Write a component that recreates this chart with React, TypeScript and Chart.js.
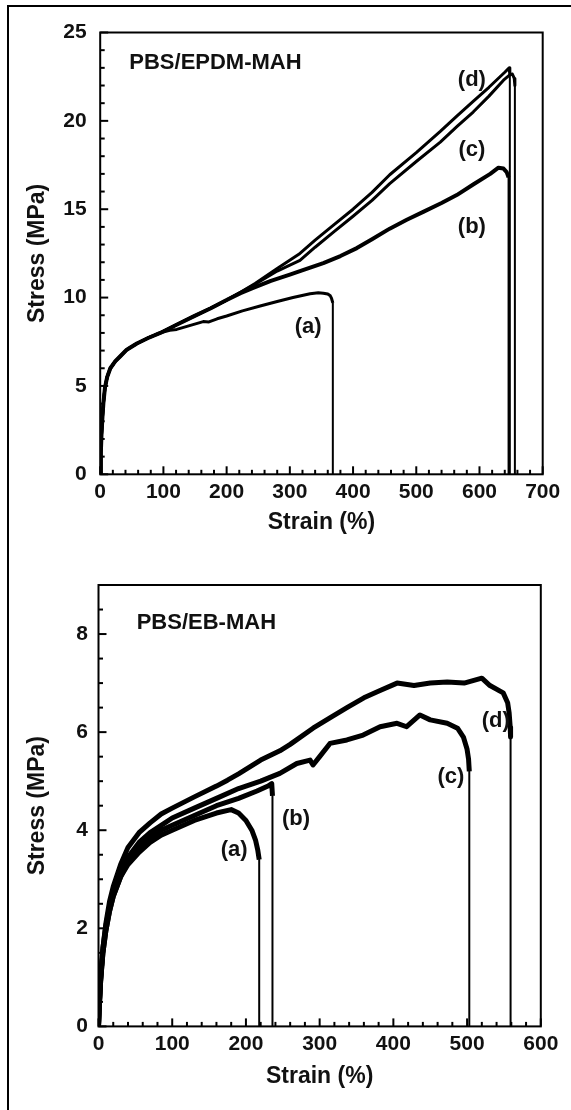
import React, { useEffect, useRef } from 'react';
import { Chart, registerables } from 'chart.js';

Chart.register(...registerables);

// ---------- Panel 1: PBS/EPDM-MAH ----------
const epdmTitle = 'PBS/EPDM-MAH';
const epdmXTicks = [0, 100, 200, 300, 400, 500, 600, 700];
const epdmYTicks = [0, 5, 10, 15, 20, 25];

const epdmA_strain = [0, 1, 2, 3.5, 5, 7.5, 11, 16, 24, 31, 42, 58, 75, 95, 110, 121, 140, 163, 172, 185, 200, 225, 253, 280, 305, 332, 345, 353, 360, 364, 366, 368, 368];
const epdmA_stress = [0, 1.2, 2.2, 3.2, 4.0, 4.9, 5.5, 6.0, 6.4, 6.65, 7.05, 7.4, 7.7, 8.0, 8.15, 8.2, 8.4, 8.64, 8.62, 8.8, 8.96, 9.25, 9.52, 9.78, 10.0, 10.22, 10.27, 10.25, 10.2, 10.1, 9.95, 9.7, 0];

const epdmB_strain = [0, 1, 2, 3.5, 5, 7.5, 11, 16, 24, 31, 42, 58, 75, 95, 120, 147, 175, 200, 222, 242, 270, 300, 316, 353, 380, 406, 430, 458, 485, 511, 540, 564, 590, 617, 630, 638, 643, 646, 646];
const epdmB_stress = [0, 1.2, 2.2, 3.2, 4.0, 4.9, 5.5, 6.0, 6.4, 6.65, 7.05, 7.4, 7.7, 8.0, 8.45, 8.92, 9.4, 9.86, 10.25, 10.55, 10.95, 11.3, 11.5, 11.95, 12.35, 12.8, 13.3, 13.9, 14.4, 14.85, 15.35, 15.8, 16.4, 17.0, 17.35, 17.3, 17.1, 16.8, 0];

const epdmC_strain = [0, 1, 2, 3.5, 5, 7.5, 11, 16, 24, 31, 42, 58, 75, 95, 120, 147, 175, 200, 222, 245, 280, 316, 340, 369, 400, 430, 458, 500, 538, 565, 590, 615, 638, 648, 652, 655, 656, 656];
const epdmC_stress = [0, 1.2, 2.2, 3.2, 4.0, 4.9, 5.5, 6.0, 6.4, 6.65, 7.05, 7.4, 7.7, 8.0, 8.45, 8.92, 9.4, 9.86, 10.3, 10.75, 11.5, 12.1, 12.85, 13.7, 14.6, 15.5, 16.45, 17.7, 18.8, 19.7, 20.5, 21.4, 22.3, 22.6, 22.65, 22.4, 22.0, 0];

const epdmD_strain = [0, 1, 2, 3.5, 5, 7.5, 11, 16, 24, 31, 42, 58, 75, 95, 120, 147, 175, 200, 222, 245, 280, 316, 340, 369, 400, 430, 458, 500, 538, 565, 590, 615, 640, 647, 648, 648];
const epdmD_stress = [0, 1.2, 2.2, 3.2, 4.0, 4.9, 5.5, 6.0, 6.4, 6.65, 7.05, 7.4, 7.7, 8.0, 8.45, 8.92, 9.4, 9.86, 10.3, 10.8, 11.65, 12.5, 13.25, 14.1, 15.0, 15.95, 16.95, 18.2, 19.4, 20.3, 21.1, 21.9, 22.75, 23.0, 22.6, 0];

const epdmLabelText = ['(a)', '(b)', '(c)', '(d)'];
const epdmLabelStrain = [329, 588, 588, 588];
const epdmLabelStress = [8.34, 14.0, 18.35, 22.3];

// ---------- Panel 2: PBS/EB-MAH ----------
const ebTitle = 'PBS/EB-MAH';
const ebXTicks = [0, 100, 200, 300, 400, 500, 600];
const ebYTicks = [0, 2, 4, 6, 8];

const ebA_strain = [0, 1, 3, 6, 10, 15, 20, 30, 40, 55, 70, 85, 100, 130, 160, 180, 190, 200, 208, 213, 216, 218, 218];
const ebA_stress = [0, 0.4, 0.95, 1.5, 1.95, 2.35, 2.65, 3.05, 3.3, 3.55, 3.75, 3.9, 4.0, 4.2, 4.35, 4.42, 4.35, 4.2, 4.0, 3.8, 3.6, 3.4, 0];

const ebB_strain = [0, 1, 3, 6, 10, 15, 20, 30, 40, 55, 70, 85, 100, 130, 160, 190, 215, 230, 235, 236, 236];
const ebB_stress = [0, 0.4, 0.95, 1.5, 1.95, 2.35, 2.65, 3.05, 3.35, 3.65, 3.85, 4.0, 4.1, 4.3, 4.5, 4.65, 4.8, 4.9, 4.95, 4.7, 0];

const ebC_strain = [0, 1, 3, 6, 10, 15, 20, 30, 40, 55, 70, 85, 100, 130, 160, 190, 220, 246, 269, 287, 291, 300, 314, 337, 359, 382, 405, 418, 436, 450, 473, 487, 495, 500, 502, 503, 503];
const ebC_stress = [0, 0.4, 1.0, 1.6, 2.05, 2.45, 2.75, 3.15, 3.45, 3.75, 3.95, 4.1, 4.25, 4.45, 4.65, 4.85, 5.0, 5.16, 5.36, 5.43, 5.33, 5.5, 5.77, 5.84, 5.94, 6.11, 6.18, 6.11, 6.35, 6.25, 6.18, 6.08, 5.9, 5.65, 5.45, 5.2, 0];

const ebD_strain = [0, 1, 3, 6, 10, 15, 20, 30, 40, 55, 70, 85, 100, 130, 160, 175, 190, 220, 246, 260, 291, 315, 337, 360, 382, 405, 428, 450, 473, 496, 520, 531, 549, 555, 557, 558.5, 559, 559];
const ebD_stress = [0, 0.4, 1.0, 1.6, 2.1, 2.55, 2.85, 3.3, 3.65, 3.95, 4.15, 4.33, 4.45, 4.68, 4.9, 5.02, 5.15, 5.43, 5.62, 5.75, 6.08, 6.3, 6.5, 6.7, 6.85, 7.0, 6.95, 7.0, 7.02, 7.0, 7.1, 6.95, 6.8, 6.6, 6.4, 6.1, 5.9, 0];

const ebLabelText = ['(a)', '(b)', '(c)', '(d)'];
const ebLabelStrain = [184, 268, 478, 539];
const ebLabelStress = [3.6, 4.23, 5.09, 6.23];

const FONT = '"Liberation Sans", Arial, Helvetica, sans-serif';

function pts(xs: number[], ys: number[]) {
  return xs.map((x, i) => ({ x, y: ys[i] }));
}

const frameTicks = {
  id: 'frameTicks',
  afterDraw(chart: any, _args: any, opts: any) {
    const { ctx, chartArea: a, scales } = chart;
    const xs = scales.x;
    const ys = scales.y;
    ctx.save();
    ctx.strokeStyle = '#000';
    ctx.lineWidth = 2;
    ctx.lineCap = 'butt';
    const nx = Math.round((xs.max - xs.min) / opts.xMinor);
    for (let i = 0; i <= nx; i++) {
      const v = xs.min + i * opts.xMinor;
      const px = xs.getPixelForValue(v);
      const major = Math.abs(v / opts.xMajor - Math.round(v / opts.xMajor)) < 1e-6;
      const len = major ? 8 : 4.5;
      ctx.beginPath();
      ctx.moveTo(px, a.bottom);
      ctx.lineTo(px, a.bottom - len);
      ctx.stroke();
    }
    const ny = Math.round((ys.max - ys.min) / opts.yMinor);
    for (let i = 0; i <= ny; i++) {
      const v = ys.min + i * opts.yMinor;
      const py = ys.getPixelForValue(v);
      const major = Math.abs(v / opts.yMajor - Math.round(v / opts.yMajor)) < 1e-6;
      const len = major ? 8 : 4.5;
      ctx.beginPath();
      ctx.moveTo(a.left, py);
      ctx.lineTo(a.left + len, py);
      ctx.stroke();
    }
    ctx.lineWidth = 2;
    ctx.strokeRect(a.left, a.top, a.right - a.left, a.bottom - a.top);
    ctx.restore();
  },
};

const textLabels = {
  id: 'textLabels',
  afterDatasetsDraw(chart: any, _args: any, opts: any) {
    const { ctx, scales } = chart;
    ctx.save();
    ctx.fillStyle = '#111';
    ctx.font = `bold 22px ${FONT}`;
    ctx.textAlign = 'center';
    ctx.textBaseline = 'middle';
    opts.texts.forEach((t: string, i: number) => {
      ctx.fillText(t, scales.x.getPixelForValue(opts.xs[i]), scales.y.getPixelForValue(opts.ys[i]));
    });
    ctx.textAlign = 'left';
    ctx.fillText(opts.title, scales.x.getPixelForValue(opts.titleX), scales.y.getPixelForValue(opts.titleY));
    ctx.restore();
  },
};

function makeConfig(p: any) {
  const seg = (w: number) => ({
    borderWidth: (c: any) => (Math.abs(c.p0.parsed.x - c.p1.parsed.x) < 0.6 && Math.abs(c.p0.parsed.y - c.p1.parsed.y) > 1 ? 2 : w),
  });
  return {
    type: 'line',
    data: {
      datasets: p.series.map((s: any) => ({
        data: s.data,
        borderColor: '#000',
        backgroundColor: '#000',
        borderWidth: s.w,
        pointRadius: 0,
        tension: 0,
        fill: false,
        borderJoinStyle: 'round',
        segment: seg(s.w),
      })),
    },
    options: {
      responsive: false,
      animation: false,
      events: [],
      layout: { padding: { left: 0, top: p.top, right: p.right, bottom: 0 } },
      plugins: {
        legend: { display: false },
        tooltip: { enabled: false },
        frameTicks: p.ticks,
        textLabels: p.labels,
      },
      scales: {
        x: {
          type: 'linear',
          min: p.xMin,
          max: p.xMax,
          afterBuildTicks: (s: any) => { s.ticks = p.xTicks.map((v: number) => ({ value: v })); },
          afterFit: (s: any) => { s.height = p.xHeight; },
          grid: { display: false, drawTicks: false },
          border: { display: false },
          ticks: { color: '#111', padding: p.xPad, maxRotation: 0, autoSkip: false, font: { family: FONT, size: 21, weight: 'bold' } },
          title: { display: true, text: 'Strain (%)', color: '#111', font: { family: FONT, size: 23, weight: 'bold' }, padding: { top: 0, bottom: p.xTitlePad } },
        },
        y: {
          type: 'linear',
          min: p.yMin,
          max: p.yMax,
          afterBuildTicks: (s: any) => { s.ticks = p.yTicks.map((v: number) => ({ value: v })); },
          afterFit: (s: any) => { s.width = p.yWidth; },
          grid: { display: false, drawTicks: false },
          border: { display: false },
          ticks: { color: '#111', padding: p.yPad, autoSkip: false, font: { family: FONT, size: 21, weight: 'bold' } },
          title: { display: true, text: 'Stress (MPa)', color: '#111', font: { family: FONT, size: 23, weight: 'bold' }, padding: { top: p.yTitlePad, bottom: 0 } },
        },
      },
    },
    plugins: [frameTicks, textLabels],
  };
}

function Panel(props: { cfg: any; top: number }) {
  const ref = useRef<HTMLCanvasElement | null>(null);
  useEffect(() => {
    if (!ref.current) return;
    const chart = new Chart(ref.current, props.cfg as any);
    return () => chart.destroy();
  }, []);
  return (
    <canvas
      ref={ref}
      width={571}
      height={555}
      style={{ position: 'absolute', left: 0, top: props.top, width: 571, height: 555, display: 'block' }}
    />
  );
}

const topCfg = makeConfig({
  series: [
    { data: pts(epdmA_strain, epdmA_stress), w: 3 },
    { data: pts(epdmB_strain, epdmB_stress), w: 4 },
    { data: pts(epdmC_strain, epdmC_stress), w: 3 },
    { data: pts(epdmD_strain, epdmD_stress), w: 3 },
  ],
  xMin: 0, xMax: 700, yMin: 0, yMax: 25,
  xTicks: epdmXTicks, yTicks: epdmYTicks,
  top: 32.5, right: 28.3, yWidth: 100.2, xHeight: 80.7,
  xPad: 5, yPad: 13.5, xTitlePad: 19, yTitlePad: 24,
  ticks: { xMinor: 20, xMajor: 100, yMinor: 1, yMajor: 5 },
  labels: { texts: epdmLabelText, xs: epdmLabelStrain, ys: epdmLabelStress, title: epdmTitle, titleX: 46, titleY: 23.28 },
});

const bottomCfg = makeConfig({
  series: [
    { data: pts(ebA_strain, ebA_stress), w: 5 },
    { data: pts(ebB_strain, ebB_stress), w: 5 },
    { data: pts(ebC_strain, ebC_stress), w: 5 },
    { data: pts(ebD_strain, ebD_stress), w: 5 },
  ],
  xMin: 0, xMax: 600, yMin: 0, yMax: 9,
  xTicks: ebXTicks, yTicks: ebYTicks,
  top: 30, right: 30.2, yWidth: 98.5, xHeight: 83.6,
  xPad: 5, yPad: 10.5, xTitlePad: 20, yTitlePad: 24,
  ticks: { xMinor: 20, xMajor: 100, yMinor: 0.5, yMajor: 2 },
  labels: { texts: ebLabelText, xs: ebLabelStrain, ys: ebLabelStress, title: ebTitle, titleX: 51.8, titleY: 8.23 },
});

export default function App() {
  return (
    <div style={{ position: 'absolute', left: 0, top: 0, width: 571, height: 1110, overflow: 'hidden', background: '#fff' }}>
      <div style={{ position: 'absolute', left: 6.5, top: 5, width: 700, height: 1300, borderLeft: '2px solid #000', borderTop: '2px solid #000' }} />
      <Panel cfg={topCfg} top={0} />
      <Panel cfg={bottomCfg} top={555} />
    </div>
  );
}
